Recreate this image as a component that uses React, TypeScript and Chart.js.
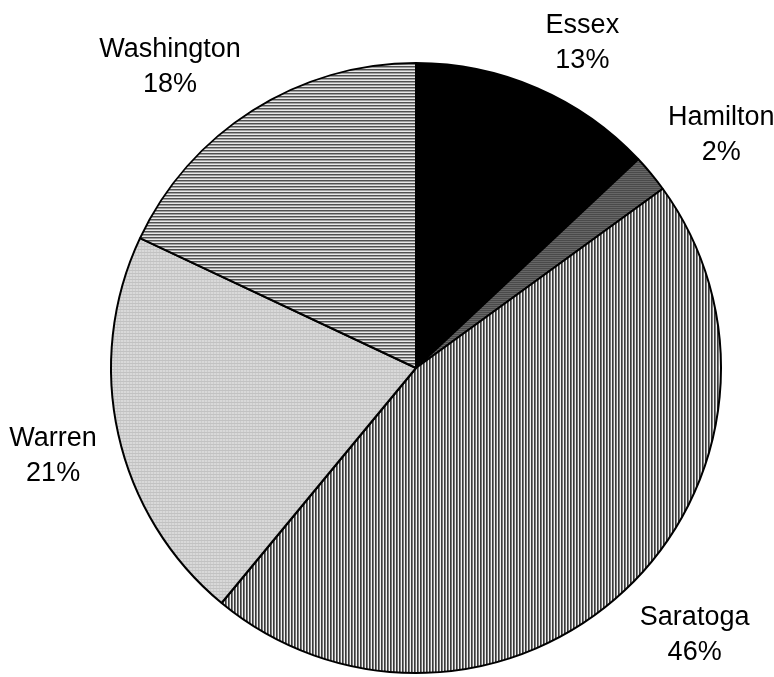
import React, { useEffect, useRef } from "react";
import { Chart, registerables } from "chart.js";

Chart.register(...registerables);

// County shares of the total, clockwise from 12 o'clock
const counties = ["Essex", "Hamilton", "Saratoga", "Warren", "Washington"];
const shares = [13, 2, 46, 21, 18];

const FONT = '27px "Liberation Sans", Arial, sans-serif';
const LINE_PITCH = 35;
const CAP_HEIGHT = 19;
const LABEL_GAP = 22;

// Builds a small repeating tile used as a slice fill
function makePattern(size: number, paint: (ctx: CanvasRenderingContext2D) => void): CanvasPattern | string {
  const c = document.createElement("canvas");
  c.width = size;
  c.height = size;
  const ctx = c.getContext("2d");
  if (!ctx) return "#888";
  paint(ctx);
  const p = ctx.createPattern(c, "repeat");
  return p || "#888";
}

function buildFills(): (CanvasPattern | string)[] {
  const hamilton = makePattern(2, (ctx) => {
    ctx.fillStyle = "#4a4a4a";
    ctx.fillRect(0, 0, 2, 2);
    ctx.fillStyle = "#666";
    ctx.fillRect(0, 1, 2, 1);
  });
  const saratoga = makePattern(3, (ctx) => {
    const cols = ["#3a3a3a", "#7a7a7a", "#f0f0f0"];
    cols.forEach((col, i) => {
      ctx.fillStyle = col;
      ctx.fillRect(i, 0, 1, 3);
    });
  });
  const warren = makePattern(3, (ctx) => {
    ctx.fillStyle = "#d9d9d9";
    ctx.fillRect(0, 0, 3, 3);
    ctx.fillStyle = "#c2c2c2";
    ctx.fillRect(0, 0, 3, 1);
    ctx.fillStyle = "#cccccc";
    ctx.fillRect(0, 1, 1, 2);
  });
  const washington = makePattern(3, (ctx) => {
    const rows = ["#505050", "#a0a0a0", "#e8e8e8"];
    rows.forEach((col, i) => {
      ctx.fillStyle = col;
      ctx.fillRect(0, i, 3, 1);
    });
  });
  return ["#000000", hamilton, saratoga, warren, washington];
}

// Two-line "name / percent" labels set just outside each slice
const outsideLabels = {
  id: "outsideLabels",
  afterDatasetsDraw(chart: Chart) {
    const ctx = chart.ctx;
    const meta = chart.getDatasetMeta(0);
    const values = chart.data.datasets[0].data as number[];
    const total = values.reduce((a, b) => a + b, 0);
    ctx.save();
    ctx.font = FONT;
    ctx.fillStyle = "#000";
    ctx.textAlign = "center";
    ctx.textBaseline = "alphabetic";
    meta.data.forEach((el: any, i: number) => {
      const { x, y, startAngle, endAngle, outerRadius } = el.getProps(
        ["x", "y", "startAngle", "endAngle", "outerRadius"],
        true
      );
      const mid = (startAngle + endAngle) / 2;
      const ux = Math.cos(mid);
      const uy = Math.sin(mid);
      const name = String(chart.data.labels![i]);
      const pct = Math.round((values[i] / total) * 100) + "%";
      const w = Math.max(ctx.measureText(name).width, ctx.measureText(pct).width);
      const h = LINE_PITCH + CAP_HEIGHT;
      const d = outerRadius + LABEL_GAP;
      const px = x + ux * d;
      const py = y + uy * d;
      const clamp = (v: number) => Math.max(-1, Math.min(1, v * 2.5));
      const cx = px + clamp(ux) * (w / 2);
      const cy = py + clamp(uy) * (h / 2);
      const base1 = cy - h / 2 + CAP_HEIGHT;
      ctx.fillText(name, cx, base1);
      ctx.fillText(pct, cx, base1 + LINE_PITCH);
    });
    ctx.restore();
  },
};

export default function App() {
  const canvasRef = useRef<HTMLCanvasElement | null>(null);

  useEffect(() => {
    if (!canvasRef.current) return;
    const chart = new Chart(canvasRef.current, {
      type: "pie",
      data: {
        labels: counties,
        datasets: [
          {
            data: shares,
            backgroundColor: buildFills() as any,
            borderColor: "#000",
            borderWidth: 2,
          },
        ],
      },
      options: {
        responsive: false,
        animation: false,
        radius: 305,
        layout: { padding: { left: 58, top: 59, right: 0, bottom: 0 } },
        events: [],
        plugins: {
          legend: { display: false },
          tooltip: { enabled: false },
          title: { display: false },
        },
      } as any,
      plugins: [outsideLabels],
    });
    return () => chart.destroy();
  }, []);

  return (
    <div style={{ position: "fixed", left: 0, top: 0, width: 774, height: 677, background: "#fff" }}>
      <canvas ref={canvasRef} width={774} height={677} style={{ display: "block" }} />
    </div>
  );
}
